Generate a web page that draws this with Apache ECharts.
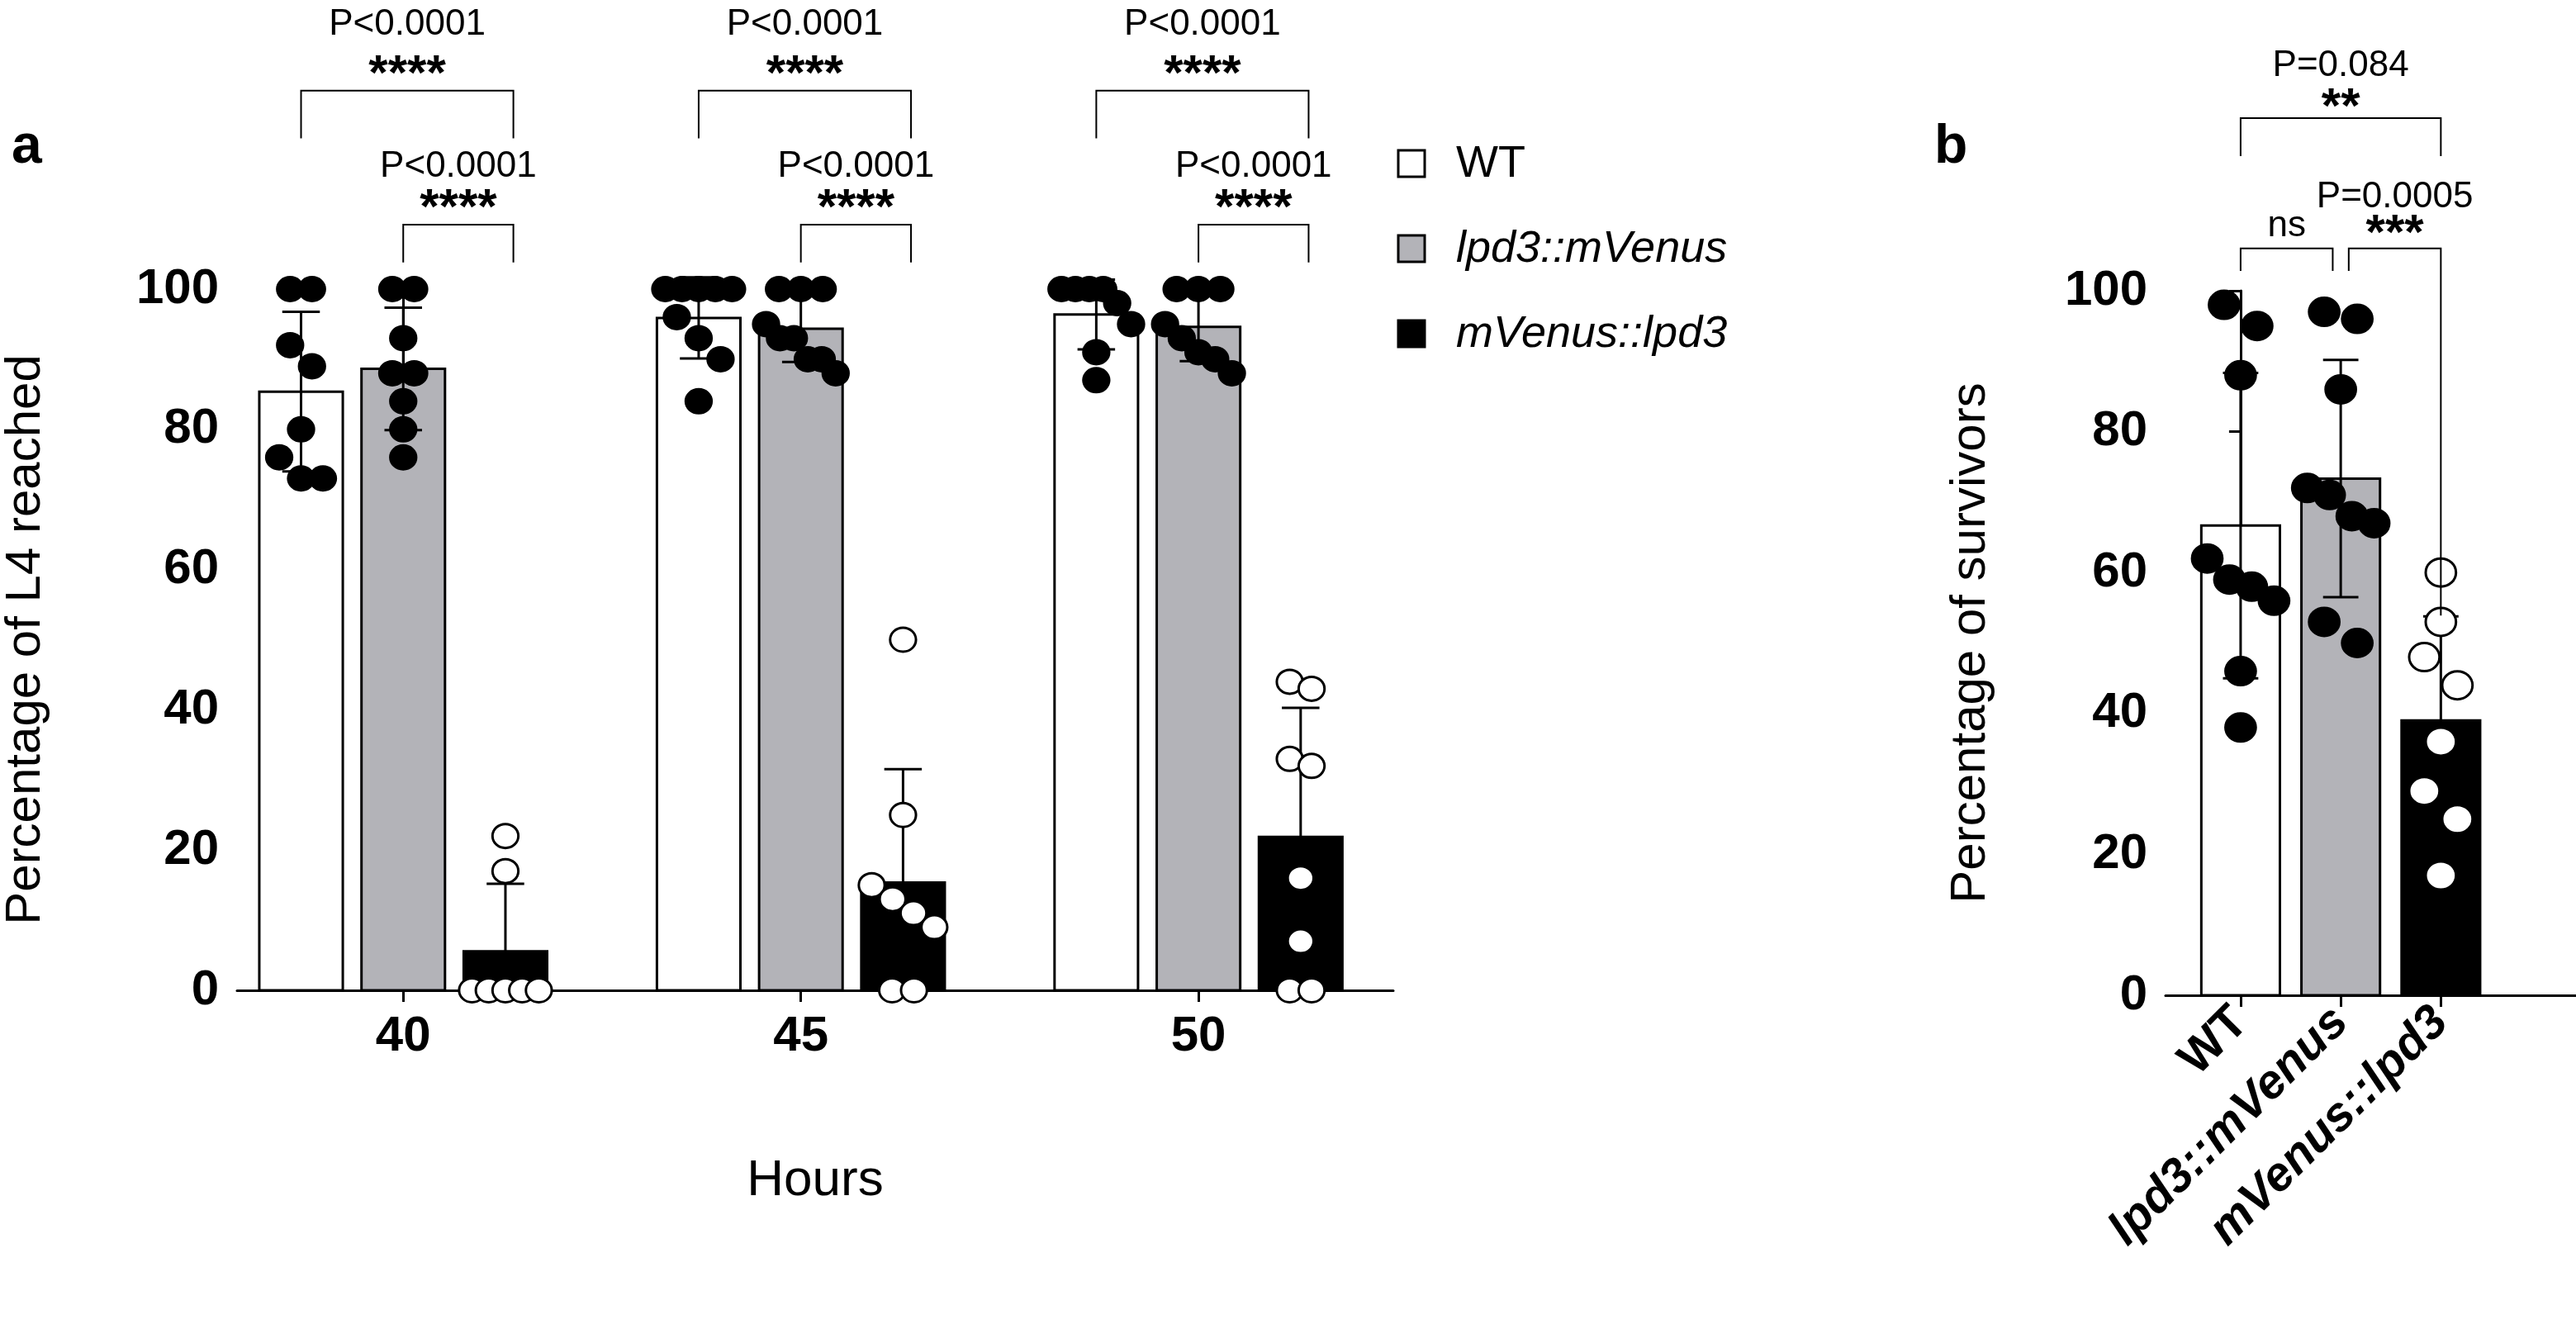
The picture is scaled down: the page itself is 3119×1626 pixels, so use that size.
<!DOCTYPE html>
<html><head><meta charset="utf-8">
<script src="https://cdn.jsdelivr.net/npm/echarts@6/dist/echarts.min.js"></script>
<style>html,body{margin:0;padding:0;background:#fff}#c{width:3119px;height:1626px}</style>
</head><body><div id="c"></div>
<script>
// ---------- DATA ----------
const hours = ['40', '45', '50'];
const groups = ['WT', 'lpd3::mVenus', 'mVenus::lpd3'];
const yTicksA = [0, 20, 40, 60, 80, 100];
// Panel a: % reaching L4 at each hour (per group)
const a_WT    = [[100,100,92,89,80,76,73,73], [100,100,100,100,100,96,93,90,84], [100,100,100,100,98,95,91,87]];
const a_lpd   = [[100,100,93,88,88,84,80,76], [100,100,100,95,93,93,90,90,88], [100,100,100,95,93,91,90,88]];
const a_mV    = [[22,17,0,0,0,0,0], [50,25,15,13,11,9,0,0], [44,43,33,32,16,7,0,0]];
// Panel b: % survivors
const b_WT  = [98,95,88,62,59,58,56,46,38];
const b_lpd = [97,96,86,72,71,68,67,53,50];
const b_mV  = [60,53,48,44,36,29,25,17];
// Significance annotations: [groupIndex(hour), fromSeries, toSeries, pText, stars]
const annA = [
  [0,0,2,'P<0.0001','****'],[0,1,2,'P<0.0001','****'],
  [1,0,2,'P<0.0001','****'],[1,1,2,'P<0.0001','****'],
  [2,0,2,'P<0.0001','****'],[2,1,2,'P<0.0001','****']
];
const annB = [[0,1,'','ns'],[1,2,'P=0.0005','***'],[0,2,'P=0.084','**']];

// ---------- helpers ----------
const fills = ['#ffffff', '#b3b3b8', '#000000'];
const mean = a => a.reduce((s,v)=>s+v,0)/a.length;
const sd = a => { const m = mean(a); return Math.sqrt(a.reduce((s,v)=>s+(v-m)*(v-m),0)/(a.length-1)); };
function swarm(vals, thr, spacing) {
  const idx = vals.map((v,i)=>i).sort((i,j)=>vals[j]-vals[i]);
  const off = new Array(vals.length).fill(0);
  let cl = [];
  const flush = () => { const n = cl.length; cl.forEach((id,k)=>{ off[id] = (k-(n-1)/2)*spacing(n); }); cl = []; };
  idx.forEach(i => { if (cl.length && vals[cl[cl.length-1]] - vals[i] > thr) flush(); cl.push(i); });
  flush();
  return off;
}
const stepA = 0.257, bwA = 0.21, bwB = 0.785;
const seriesA = [a_WT, a_lpd, a_mV];
const barsA = [], ptsA = [];
seriesA.forEach((arr, s) => arr.forEach((vals, h) => {
  const x = h + (s-1)*stepA;
  barsA.push([x, mean(vals), sd(vals), s]);
  const off = swarm(vals, 3.2, n => Math.min(0.055, bwA*1.0/n));
  vals.forEach((v,i)=>ptsA.push([x+off[i], v, s]));
}));
const seriesB = [b_WT, b_lpd, b_mV];
const barsB = [], ptsB = [];
seriesB.forEach((vals, s) => {
  barsB.push([s, mean(vals), sd(vals), s]);
  const off = swarm(vals, 4.5, n => Math.min(0.33, bwB*0.85/Math.max(1,n-1)));
  vals.forEach((v,i)=>ptsB.push([s+off[i], v, s]));
});

function barRender(bw) {
  return function(params, api) {
    const x = api.value(0), m = api.value(1), d = api.value(2), s = api.value(3);
    const p0 = api.coord([x, 0]), pm = api.coord([x, m]);
    const w = api.size([bw, 0])[0];
    const ph = api.coord([x, m + d]), pl = api.coord([x, Math.max(0, m - d)]);
    const cap = w * 0.45;
    return { type: 'group', children: [
      { type: 'rect', shape: { x: p0[0]-w/2, y: pm[1], width: w, height: p0[1]-pm[1] },
        style: { fill: fills[s], stroke: '#000', lineWidth: 3 } },
      { type: 'line', shape: { x1: pm[0], y1: ph[1], x2: pm[0], y2: pl[1] }, style: { stroke: '#000', lineWidth: 3 } },
      { type: 'line', shape: { x1: pm[0]-cap/2, y1: ph[1], x2: pm[0]+cap/2, y2: ph[1] }, style: { stroke: '#000', lineWidth: 3 } },
      { type: 'line', shape: { x1: pm[0]-cap/2, y1: pl[1], x2: pm[0]+cap/2, y2: pl[1] }, style: { stroke: '#000', lineWidth: 3 } }
    ]};
  };
}
function ptRender(r) {
  return function(params, api) {
    const p = api.coord([api.value(0), api.value(1)]);
    const s = api.value(2);
    const open = s === 2;
    return { type: 'ellipse', shape: { cx: p[0], cy: p[1], rx: r*1.08, ry: r },
      style: { fill: open ? '#fff' : '#000', stroke: '#000', lineWidth: 3 } };
  };
}
function bracket(api, x1, x2, y, l1, l2, pText, stars, pOff, sOff, starsBold) {
  const a = api.coord([x1, y]), b = api.coord([x2, y]);
  const la = api.coord([x1, l1]), lb = api.coord([x2, l2]);
  const cx = (a[0]+b[0])/2;
  const ch = [
    { type: 'polyline', shape: { points: [[a[0], la[1]], [a[0], a[1]], [b[0], b[1]], [b[0], lb[1]]] },
      style: { stroke: '#000', lineWidth: 2, fill: null } },
    { type: 'text', style: { x: cx, y: a[1]+sOff, text: stars, align: 'center', verticalAlign: 'middle',
      font: starsBold === false ? '44px "Liberation Sans", Arial' : 'bold 60px "Liberation Sans", Arial', fill: '#000' } }
  ];
  if (pText) ch.push({ type: 'text', style: { x: cx, y: a[1]+pOff, text: pText, align: 'center', verticalAlign: 'middle',
      font: '44px "Liberation Sans", Arial', fill: '#000' } });
  return ch;
}

const axisLine = { show: true, lineStyle: { color: '#000', width: 3 } };
const axisTick = { show: true, length: 14, lineStyle: { color: '#000', width: 3 } };
const tickFont = { fontFamily: 'Liberation Sans', fontWeight: 'bold', fontSize: 60, color: '#000' };

const option = {
  backgroundColor: '#fff',
  animation: false,
  grid: [
    { left: 274, top: 350, width: 1413, height: 849 },
    { left: 2622, top: 352, width: 497, height: 853 }
  ],
  xAxis: [
    { gridIndex: 0, type: 'value', min: -0.418, max: 2.49, splitLine: { show: false },
      axisLine, axisTick: Object.assign({ customValues: [0,1,2] }, axisTick),
      axisLabel: Object.assign({ customValues: [0,1,2], margin: 26, formatter: v => hours[Math.round(v)] }, tickFont),
      name: 'Hours', nameLocation: 'middle', nameGap: 200,
      nameTextStyle: { fontFamily: 'Liberation Sans', fontSize: 62, color: '#000' } },
    { gridIndex: 1, type: 'value', min: -0.75, max: 3.35, splitLine: { show: false },
      axisLine, axisTick: Object.assign({ customValues: [0,1,2] }, axisTick),
      axisLabel: { customValues: [0,1,2], rotate: 45, margin: 24,
        formatter: v => { const g = groups[Math.round(v)]; return g === 'WT' ? '{n|' + g + '}' : '{i|' + g + '}'; },
        rich: { n: { fontFamily: 'Liberation Sans', fontWeight: 'bold', fontSize: 58, color: '#000' },
                i: { fontFamily: 'Liberation Sans', fontWeight: 'bold', fontStyle: 'italic', fontSize: 58, color: '#000' } } } }
  ],
  yAxis: [
    { gridIndex: 0, type: 'value', min: 0, max: 100, interval: 20, splitLine: { show: false },
      axisLine, axisTick, axisLabel: Object.assign({ margin: 22 }, tickFont),
      name: 'Percentage of L4 reached', nameLocation: 'middle', nameGap: 226,
      nameTextStyle: { fontFamily: 'Liberation Sans', fontSize: 60, color: '#000' } },
    { gridIndex: 1, type: 'value', min: 0, max: 100, interval: 20, splitLine: { show: false },
      axisLine, axisTick, axisLabel: Object.assign({ margin: 22 }, tickFont),
      name: 'Percentage of survivors', nameLocation: 'middle', nameGap: 206,
      nameTextStyle: { fontFamily: 'Liberation Sans', fontSize: 60, color: '#000' } }
  ],
  series: [
    { type: 'custom', xAxisIndex: 0, yAxisIndex: 0, data: barsA, renderItem: barRender(bwA), clip: false, z: 2 },
    { type: 'custom', xAxisIndex: 0, yAxisIndex: 0, data: ptsA, renderItem: ptRender(14.5), clip: false, z: 3 },
    { type: 'custom', xAxisIndex: 1, yAxisIndex: 1, data: barsB, renderItem: barRender(bwB), clip: false, z: 2 },
    { type: 'custom', xAxisIndex: 1, yAxisIndex: 1, data: ptsB, renderItem: ptRender(17), clip: false, z: 3 },
    { type: 'custom', xAxisIndex: 0, yAxisIndex: 0, data: annA, clip: false, z: 4,
      renderItem: (params, api) => {
        const d = annA[params.dataIndex];
        const x1 = d[0] + (d[1]-1)*stepA, x2 = d[0] + (d[2]-1)*stepA + 0.02;
        const top = d[1] === 0;
        const y = top ? 128.3 : 109.2, l = top ? 121.5 : 103.8;
        return { type: 'group', children: bracket(api, x1, x2, y, l, l, d[3], d[4], top ? -80 : -70, -18) };
      } },
    { type: 'custom', xAxisIndex: 1, yAxisIndex: 1, data: annB, clip: false, z: 4,
      renderItem: (params, api) => {
        const d = annB[params.dataIndex];
        if (params.dataIndex === 0) return { type: 'group', children: bracket(api, d[0], d[1]-0.08, 106, 102.8, 102.8, d[2], d[3], 0, -27, false) };
        if (params.dataIndex === 1) return { type: 'group', children: bracket(api, d[0]+0.08, d[1], 106, 102.8, 53.9, d[2], d[3], -62, -16) };
        return { type: 'group', children: bracket(api, d[0], d[1], 124.5, 119.1, 119.1, d[2], d[3], -63, -12) };
      } }
  ],
  graphic: [
    { type: 'text', left: 14, top: 146, style: { text: 'a', font: 'bold 66px "Liberation Sans", Arial', fill: '#000' } },
    { type: 'text', left: 2342, top: 146, style: { text: 'b', font: 'bold 66px "Liberation Sans", Arial', fill: '#000' } }
  ].concat(groups.flatMap((g, i) => [
    { type: 'rect', shape: { x: 1693, y: 182 + i*103, width: 32, height: 32 },
      style: { fill: fills[i], stroke: '#000', lineWidth: 3 } },
    { type: 'text', x: 1763, y: 199 + i*103, style: { text: g, verticalAlign: 'middle',
      font: (i ? 'italic ' : '') + '54px "Liberation Sans", Arial', fill: '#000' } }
  ]))
};
echarts.init(document.getElementById('c')).setOption(option);
</script></body></html>
